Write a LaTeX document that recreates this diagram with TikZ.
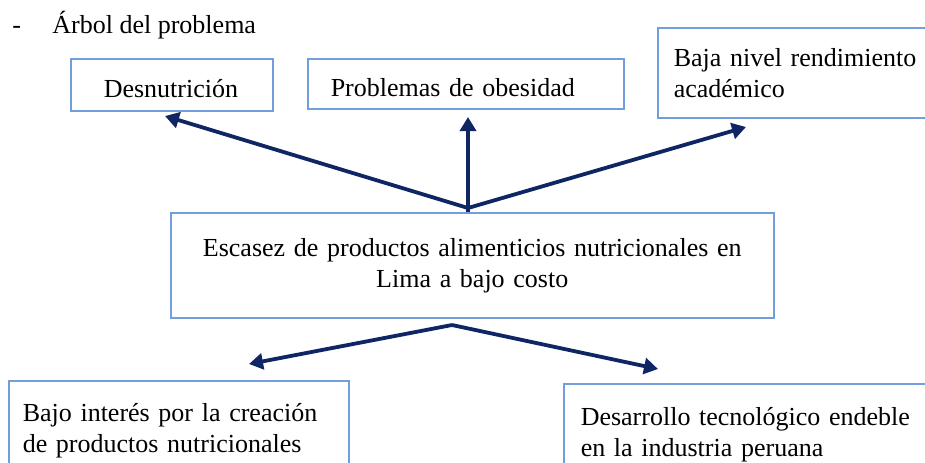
\documentclass[tikz,border=0pt]{standalone}
\usepackage{fontspec}
\setmainfont{Liberation Serif}
\usetikzlibrary{arrows.meta}

\definecolor{borde}{RGB}{114,159,220}
\definecolor{flecha}{RGB}{16,38,100}

\tikzset{
  caja/.style={draw=borde, line width=0.75pt, anchor=north west, align=left, inner sep=0pt,
    font=\fontsize{13}{15.5}\selectfont},
  flechita/.style={draw=flecha, line width=1.9pt, -{Triangle[length=7pt,width=8pt]}},
  texto/.style={anchor=base west, inner sep=0pt, font=\fontsize{13}{15.5}\selectfont}
}

\begin{document}
\begin{tikzpicture}[x=0.5pt,y=-0.5pt]

\useasboundingbox (0,0) rectangle (925,462);
\clip (0,0) rectangle (925,462);

\node[texto] (guion) at (12,33) {-};
\node[texto] (titulo) at (52,33) {Árbol del problema};

\node[caja, minimum width=101pt, minimum height=26pt, text width=68pt, text height=13.5pt, text depth=0.5pt] (desn) at (70,58) {Desnutrición};
\node[caja, minimum width=158pt, minimum height=25pt, text width=135pt, text height=13.5pt, text depth=0.5pt] (obes) at (307,58) {Problemas de obesidad};
\node[caja, minimum width=151.5pt, minimum height=45pt, text width=135.5pt] (acad) at (657,27) {Baja nivel rendimiento\\académico};

\node[caja, align=center, minimum width=301.5pt, minimum height=52.5pt, text width=280pt] (centro) at (170,212) {Escasez de productos alimenticios nutricionales en\\Lima a bajo costo};

\node[caja, minimum width=170pt, minimum height=49.5pt, text width=156pt] (bajo) at (8,380) {Bajo interés por la creación\\de productos nutricionales};
\node[caja, minimum width=198pt, minimum height=51pt, text width=181pt] (desa) at (563,383) {Desarrollo tecnológico endeble\\en la industria peruana};

\coordinate (raiz) at (468,208);
\coordinate (base) at (452,325);
\coordinate (p1) at (165,116);
\coordinate (p2) at (468,117);
\coordinate (p3) at (746,127);
\coordinate (p4) at (249,364);
\coordinate (p5) at (658,369);

\draw[flechita] (raiz) -- (p1);
\draw[flechita] (centro.north -| raiz) -- (p2);
\draw[flechita] (raiz) -- (p3);
\draw[flechita] (base) -- (p4);
\draw[flechita] (base) -- (p5);

\end{tikzpicture}
\end{document}
